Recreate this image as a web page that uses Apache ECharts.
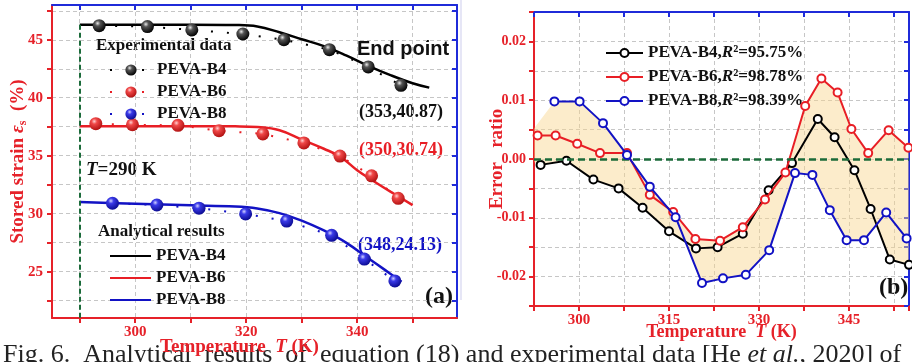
<!DOCTYPE html>
<html>
<head>
<meta charset="utf-8">
<script src="https://cdn.jsdelivr.net/npm/echarts@6/dist/echarts.min.js"></script>
<style>
    html, body { margin: 0; padding: 0; background: #fff; }
    #chart { width: 912px; height: 362px; }
</style>
</head>
<body>
<div id="chart"></div>
<script>
// ---- panel (a): stored strain vs temperature ----
const expTempB4 = [293.5, 302.2, 310.2, 319.4, 326.8, 335.0, 342.0, 347.9];
const expStrainB4 = [46.22, 46.14, 45.85, 45.5, 45.0, 44.15, 42.66, 41.07];
const expTempB6 = [292.9, 299.5, 307.7, 315.1, 323.0, 330.4, 336.9, 342.6, 347.4];
const expStrainB6 = [37.76, 37.67, 37.62, 37.16, 36.88, 36.1, 34.97, 33.26, 31.32];
const expTempB8 = [295.9, 303.9, 311.5, 319.9, 327.3, 335.4, 341.3, 346.8];
const expStrainB8 = [30.9, 30.75, 30.47, 29.98, 29.36, 28.13, 26.08, 24.2];

const anaTempB4 = [290, 300, 310, 318, 322, 326, 330, 334, 338, 342, 346, 350, 353];
const anaStrainB4 = [46.3, 46.3, 46.3, 46.27, 46.15, 45.65, 45.05, 44.45, 43.65, 42.75, 41.95, 41.25, 40.87];
const anaTempB6 = [290, 300, 310, 318, 322, 326, 330, 334, 337, 340, 343, 346, 350];
const anaStrainB6 = [37.55, 37.55, 37.55, 37.53, 37.47, 37.2, 36.4, 35.6, 34.9, 33.75, 32.8, 31.9, 30.74];
const anaTempB8 = [290, 300, 310, 318, 322, 326, 330, 334, 338, 342, 345, 348];
const anaStrainB8 = [31.0, 30.85, 30.72, 30.62, 30.45, 30.05, 29.4, 28.55, 27.5, 26.15, 25.15, 24.13];

const tempTicksA = [290, 300, 310, 320, 330, 340, 350];
const tempLabelsA = [300, 320, 340];
const strainTicks = [22.5, 25, 27.5, 30, 32.5, 35, 37.5, 40, 42.5, 45, 47.5];
const strainLabels = [25, 30, 35, 40, 45];

// ---- panel (b): error ratio ----
const errTempB4 = [293.6, 297.9, 302.4, 306.6, 310.6, 315.0, 319.5, 323.1, 327.3, 331.6, 335.5, 339.8, 342.6, 345.9, 348.6, 351.8, 355.0];
const errB4 = [-0.0010, -0.0003, -0.0035, -0.0050, -0.0083, -0.0123, -0.0152, -0.0150, -0.0127, -0.0053, -0.0007, 0.0068, 0.0037, -0.0019, -0.0085, -0.0171, -0.0180];
const errTempB6 = [293.1, 296.1, 299.7, 303.5, 308.0, 311.8, 315.7, 319.4, 323.5, 327.3, 331.0, 334.4, 337.7, 340.4, 343.1, 345.4, 348.2, 351.6, 354.9];
const errB6 = [0.0040, 0.0040, 0.0026, 0.0010, 0.0010, -0.0061, -0.0090, -0.0136, -0.0139, -0.0116, -0.0069, -0.0023, 0.0090, 0.0137, 0.0113, 0.0051, 0.0010, 0.0049, 0.0019];
const errTempB8 = [295.9, 300.1, 304.0, 308.0, 311.8, 316.1, 320.5, 324.0, 327.8, 331.7, 336.0, 338.9, 341.8, 344.6, 347.5, 351.2, 354.6];
const errB8 = [0.0098, 0.0098, 0.0061, 0.0007, -0.0047, -0.0099, -0.0211, -0.0203, -0.0197, -0.0155, -0.0024, -0.0027, -0.0087, -0.0138, -0.0138, -0.0091, -0.0135];

// shaded band edges
const bandTopT = [292.5, 295.9, 300.1, 304.0, 308.0, 311.8, 314.9, 315.7, 319.4, 323.5, 327.3, 330.0, 331.6, 334.6, 337.7, 340.4, 343.1, 345.4, 348.2, 351.6, 355];
const bandTopV = [0.0052, 0.0098, 0.0098, 0.0061, 0.0010, -0.0047, -0.0085, -0.0090, -0.0136, -0.0139, -0.0116, -0.0082, -0.0053, -0.0018, 0.0090, 0.0137, 0.0113, 0.0051, 0.0010, 0.0049, 0.0019];
const bandBotT = [292.5, 293.6, 297.9, 302.4, 306.6, 310.6, 315.0, 317.7, 320.5, 324.0, 327.8, 331.7, 336.0, 338.9, 341.8, 344.6, 347.5, 349.6, 351.8, 355];
const bandBotV = [-0.0005, -0.0010, -0.0003, -0.0035, -0.0050, -0.0083, -0.0123, -0.0139, -0.0211, -0.0203, -0.0197, -0.0155, -0.0024, -0.0027, -0.0087, -0.0138, -0.0138, -0.0112, -0.0172, -0.0180];

const errNames = ['PEVA-B4,R²=95.75%', 'PEVA-B6,R²=98.78%', 'PEVA-B8,R²=98.39%'];

const red = '#E62129';
const blue = '#1F2BD9';
const lineRed = '#E81E25';
const lineBlue = '#1212C4';
const green = '#1B6B3A';
const gridGray = '#c6c6c6';
const serif = 'Liberation Serif';

const zip = (xs, ys) => xs.map((x, i) => [x, ys[i]]);

const ball = (light, mid, dark) => ({
    type: 'radial', x: 0.38, y: 0.32, r: 0.7,
    colorStops: [
        { offset: 0, color: light },
        { offset: 0.3, color: mid },
        { offset: 1, color: dark }
    ]
});

const boldSerif = (size, color, extra) => Object.assign({
    fontFamily: serif, fontWeight: 'bold', fontSize: size, color: color
}, extra || {});

var chart = echarts.init(document.getElementById('chart'));

var axisName = (color, size) => ({
    color: color,
    rich: {
        n: boldSerif(size, color),
        i: boldSerif(size, color, { fontStyle: 'italic' }),
        s: boldSerif(12, color, { padding: [9, 0, 0, 0] })
    }
});

var option = {
    animation: false,
    backgroundColor: '#fff',
    grid: [
        { left: 52, right: 455, top: 5, bottom: 42 },
        { left: 534, right: 2, top: 12, bottom: 56 }
    ],
    xAxis: [{
        gridIndex: 0, type: 'value', position: 'bottom', min: 285, max: 358,
        axisLine: { show: true, onZero: false, lineStyle: { color: red, width: 2 } },
        axisTick: { show: true, length: 5, customValues: tempTicksA, lineStyle: { color: red, width: 2 } },
        axisLabel: Object.assign(boldSerif(15, red), { margin: 7, customValues: tempLabelsA }),
        splitLine: { show: true, lineStyle: { color: gridGray, type: [4, 3], width: 1 } },
        name: '{n|Temperature  }{i|T}{n| (K)}', nameLocation: 'middle', nameGap: 20, nameMoveOverlap: false,
        nameTextStyle: Object.assign(axisName(red, 19), { padding: [0, 30, 0, 0] })
    }, {
        gridIndex: 0, type: 'value', position: 'top', min: 285, max: 358,
        axisLine: { show: true, onZero: false, lineStyle: { color: blue, width: 2 } },
        axisTick: { show: true, inside: true, length: 5, customValues: tempTicksA, lineStyle: { color: blue, width: 2 } },
        axisLabel: { show: false },
        splitLine: { show: false }
    }, {
        gridIndex: 1, type: 'value', position: 'bottom', min: 292.5, max: 355, interval: 7.5,
        axisLine: { show: true, onZero: false, lineStyle: { color: red, width: 2 } },
        axisTick: { show: true, length: 5, lineStyle: { color: red, width: 2 } },
        axisLabel: Object.assign(boldSerif(15, red), {
            margin: 7,
            formatter: v => (v % 15 === 0 ? String(v) : '')
        }),
        splitLine: { show: true, lineStyle: { color: gridGray, type: [4, 3], width: 1 } },
        name: '{n|Temperature  }{i|T}{n| (K)}', nameLocation: 'middle', nameGap: 17, nameMoveOverlap: false,
        nameTextStyle: axisName(red, 18)
    }, {
        gridIndex: 1, type: 'value', position: 'top', min: 292.5, max: 355, interval: 7.5,
        axisLine: { show: true, onZero: false, lineStyle: { color: blue, width: 2 } },
        axisTick: { show: true, inside: true, length: 5, lineStyle: { color: blue, width: 2 } },
        axisLabel: { show: false },
        splitLine: { show: false }
    }],
    yAxis: [{
        gridIndex: 0, type: 'value', position: 'left', min: 21, max: 48,
        axisLine: { show: true, onZero: false, lineStyle: { color: red, width: 2 } },
        axisTick: { show: true, length: 5, customValues: strainTicks, lineStyle: { color: red, width: 2 } },
        axisLabel: Object.assign(boldSerif(15, red), { margin: 9, customValues: strainLabels }),
        splitLine: { show: true, lineStyle: { color: gridGray, type: [4, 3], width: 1 } },
        name: '{n|Stored strain }{i|ε}{s|s}{n|  (%)}', nameLocation: 'middle', nameGap: 23, nameMoveOverlap: false,
        nameTextStyle: axisName(red, 19)
    }, {
        gridIndex: 0, type: 'value', position: 'right', min: 21, max: 48,
        axisLine: { show: true, onZero: false, lineStyle: { color: blue, width: 2 } },
        axisTick: { show: true, inside: true, length: 5, customValues: strainTicks, lineStyle: { color: blue, width: 2 } },
        axisLabel: { show: false },
        splitLine: { show: false }
    }, {
        gridIndex: 1, type: 'value', position: 'left', min: -0.025, max: 0.025, interval: 0.005,
        axisLine: { show: true, onZero: false, lineStyle: { color: red, width: 2 } },
        axisTick: { show: true, length: 5, lineStyle: { color: red, width: 2 } },
        axisLabel: Object.assign(boldSerif(14, red), {
            margin: 8,
            formatter: v => (Math.abs(Math.round(v * 1000)) % 10 === 0 ? v.toFixed(2) : '')
        }),
        splitLine: { show: true, lineStyle: { color: gridGray, type: [4, 3], width: 1 } },
        name: 'Error   ratio', nameLocation: 'middle', nameGap: 27, nameMoveOverlap: false,
        nameTextStyle: boldSerif(19, red)
    }, {
        gridIndex: 1, type: 'value', position: 'right', min: -0.025, max: 0.025, interval: 0.005,
        axisLine: { show: true, onZero: false, lineStyle: { color: blue, width: 2 } },
        axisTick: { show: true, inside: true, length: 5, lineStyle: { color: blue, width: 2 } },
        axisLabel: { show: false },
        splitLine: { show: false }
    }],
    legend: [{
        data: ['PEVA-B4', 'PEVA-B6', 'PEVA-B8'],
        orient: 'vertical', left: 104, top: 56, itemGap: 4,
        itemWidth: 42, itemHeight: 14, selectedMode: false,
        textStyle: boldSerif(17, '#111', { lineHeight: 18 })
    }, {
        data: ['PEVA-B4 ', 'PEVA-B6 ', 'PEVA-B8 '],
        orient: 'vertical', left: 104, top: 242, itemGap: 4,
        itemWidth: 41, itemHeight: 10, selectedMode: false,
        itemStyle: { opacity: 0 },
        formatter: n => n.trim(),
        textStyle: boldSerif(17, '#111', { lineHeight: 18 })
    }, {
        data: errNames,
        orient: 'vertical', left: 600, top: 39, itemGap: 6,
        itemWidth: 37, itemHeight: 10, selectedMode: false,
        formatter: n => {
            var parts = n.split('R');
            return '{n|' + parts[0] + '}{i|R}{n|' + parts[1] + '}';
        },
        textStyle: Object.assign(boldSerif(17, '#111', { lineHeight: 18 }), {
            rich: {
                n: boldSerif(17, '#111'),
                i: boldSerif(17, '#111', { fontStyle: 'italic' })
            }
        })
    }],
    graphic: [
        { type: 'line', shape: { x1: 461, y1: 0, x2: 461, y2: 300 }, style: { stroke: '#e6e6f6', lineWidth: 2 } },
        { type: 'text', x: 96, y: 46, style: { text: 'Experimental data', font: 'bold 17px "Liberation Serif"', fill: '#111', verticalAlign: 'middle' } },
        { type: 'text', x: 357, y: 49, style: { text: 'End point', font: 'bold 20px "Liberation Sans"', fill: '#111', verticalAlign: 'middle' } },
        { type: 'text', x: 443, y: 112, style: { text: '(353,40.87)', font: 'bold 18px "Liberation Serif"', fill: '#111', align: 'right', verticalAlign: 'middle' } },
        { type: 'text', x: 443, y: 150, style: { text: '(350,30.74)', font: 'bold 18px "Liberation Serif"', fill: lineRed, align: 'right', verticalAlign: 'middle' } },
        { type: 'text', x: 442, y: 245, style: { text: '(348,24.13)', font: 'bold 18px "Liberation Serif"', fill: lineBlue, align: 'right', verticalAlign: 'middle' } },
        {
            type: 'text', x: 86, y: 170,
            style: {
                text: '{i|T}{n|=290 K}', verticalAlign: 'middle',
                rich: {
                    i: { fontFamily: serif, fontWeight: 'bold', fontStyle: 'italic', fontSize: 19, fill: '#111' },
                    n: { fontFamily: serif, fontWeight: 'bold', fontSize: 19, fill: '#111' }
                }
            }
        },
        { type: 'text', x: 98, y: 232, style: { text: 'Analytical results', font: 'bold 17px "Liberation Serif"', fill: '#111', verticalAlign: 'middle' } },
        { type: 'text', x: 425, y: 297, style: { text: '(a)', font: 'bold 24px "Liberation Serif"', fill: '#111', verticalAlign: 'middle' } },
        { type: 'text', x: 879, y: 288, style: { text: '(b)', font: 'bold 24px "Liberation Serif"', fill: '#111', verticalAlign: 'middle' } },
        {
            type: 'text', x: 3, y: 355, z: -1,
            style: {
                text: '{n|Fig. 6.  Analytical  results  of  equation (18) and experimental data [He }{i|et al.}{n|, 2020] of}',
                verticalAlign: 'middle',
                rich: {
                    n: { fontFamily: serif, fontSize: 26, fill: '#222' },
                    i: { fontFamily: serif, fontStyle: 'italic', fontSize: 26, fill: '#222' }
                }
            }
        }
    ],
    series: [
        // analytical curves (a)
        {
            name: 'PEVA-B4 ', type: 'line', xAxisIndex: 0, yAxisIndex: 0,
            data: zip(anaTempB4, anaStrainB4), smooth: 0.4, symbol: 'none', z: 2,
            lineStyle: { color: '#000', width: 2.5 }, itemStyle: { color: '#000' },
            markLine: {
                silent: true, symbol: 'none', label: { show: false },
                lineStyle: { color: green, width: 2, type: [5, 3] },
                data: [[{ coord: [290, anaStrainB4[0]] }, { coord: [290, 21] }]]
            }
        },
        {
            name: 'PEVA-B6 ', type: 'line', xAxisIndex: 0, yAxisIndex: 0,
            data: zip(anaTempB6, anaStrainB6), smooth: 0.4, symbol: 'none', z: 2,
            lineStyle: { color: lineRed, width: 2.5 }, itemStyle: { color: lineRed }
        },
        {
            name: 'PEVA-B8 ', type: 'line', xAxisIndex: 0, yAxisIndex: 0,
            data: zip(anaTempB8, anaStrainB8), smooth: 0.4, symbol: 'none', z: 2,
            lineStyle: { color: lineBlue, width: 2.5 }, itemStyle: { color: lineBlue }
        },
        // experimental data (a)
        {
            name: 'PEVA-B4', type: 'line', xAxisIndex: 0, yAxisIndex: 0,
            data: zip(expTempB4, expStrainB4), symbol: 'circle', symbolSize: 13, z: 3,
            lineStyle: { color: '#000', width: 2, type: [2, 14] },
            itemStyle: { color: ball('#e8e8e8', '#555', '#000') }
        },
        {
            name: 'PEVA-B6', type: 'line', xAxisIndex: 0, yAxisIndex: 0,
            data: zip(expTempB6, expStrainB6), symbol: 'circle', symbolSize: 13, z: 3,
            lineStyle: { color: lineRed, width: 2, type: [2, 14] },
            itemStyle: { color: ball('#ffd0d0', '#f04848', '#b01010') }
        },
        {
            name: 'PEVA-B8', type: 'line', xAxisIndex: 0, yAxisIndex: 0,
            data: zip(expTempB8, expStrainB8), symbol: 'circle', symbolSize: 13, z: 3,
            lineStyle: { color: lineBlue, width: 2, type: [2, 14] },
            itemStyle: { color: ball('#d0d0ff', '#3a3ae8', '#0a0a90') }
        },
        // shaded band (b)
        {
            type: 'custom', xAxisIndex: 2, yAxisIndex: 2, silent: true, z: 1,
            data: [[bandTopT[0], bandTopV[0]]],
            renderItem: (params, api) => {
                var top = bandTopT.map((t, i) => api.coord([t, bandTopV[i]]));
                var bot = bandBotT.map((t, i) => api.coord([t, bandBotV[i]])).reverse();
                return { type: 'polygon', shape: { points: top.concat(bot) }, style: { fill: 'rgba(248, 212, 140, 0.45)' } };
            }
        },
        // error ratio curves (b)
        {
            name: errNames[0], type: 'line', xAxisIndex: 2, yAxisIndex: 2,
            data: zip(errTempB4, errB4), symbol: 'emptyCircle', symbolSize: 8, z: 3,
            lineStyle: { color: '#000', width: 2 }, itemStyle: { color: '#000', borderWidth: 2 },
            markLine: {
                silent: true, symbol: 'none', label: { show: false },
                lineStyle: { color: green, width: 2.5, type: [7, 4] },
                data: [{ yAxis: 0 }]
            }
        },
        {
            name: errNames[1], type: 'line', xAxisIndex: 2, yAxisIndex: 2,
            data: zip(errTempB6, errB6), symbol: 'emptyCircle', symbolSize: 8, z: 4,
            lineStyle: { color: lineRed, width: 2 }, itemStyle: { color: lineRed, borderWidth: 2 }
        },
        {
            name: errNames[2], type: 'line', xAxisIndex: 2, yAxisIndex: 2,
            data: zip(errTempB8, errB8), symbol: 'emptyCircle', symbolSize: 8, z: 5,
            lineStyle: { color: lineBlue, width: 2 }, itemStyle: { color: lineBlue, borderWidth: 2 }
        }
    ]
};

chart.setOption(option);
</script>
</body>
</html>
